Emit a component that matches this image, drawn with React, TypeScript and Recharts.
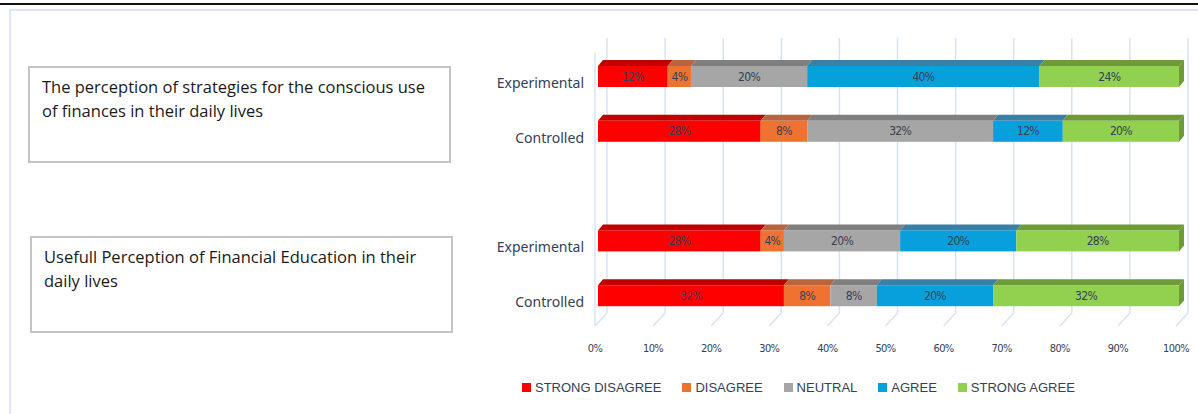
import React from 'react'
import { Bar, BarChart, CartesianGrid, LabelList, XAxis, YAxis } from 'recharts'

const CATEGORIES = ['Experimental', 'Controlled', '', 'Experimental', 'Controlled']
const STRONG_DISAGREE = [12, 28, null, 28, 32]
const DISAGREE = [4, 8, null, 4, 8]
const NEUTRAL = [20, 32, null, 20, 8]
const AGREE = [40, 12, null, 20, 20]
const STRONG_AGREE = [24, 20, null, 28, 32]
const X_TICKS = [0, 10, 20, 30, 40, 50, 60, 70, 80, 90, 100]

const SERIES = [
  { key: 'sd', name: 'STRONG DISAGREE', values: STRONG_DISAGREE, color: '#FF0000', top: '#C00000' },
  { key: 'd', name: 'DISAGREE', values: DISAGREE, color: '#F07230', top: '#B8653F' },
  { key: 'n', name: 'NEUTRAL', values: NEUTRAL, color: '#A6A6A6', top: '#7F7F7F' },
  { key: 'a', name: 'AGREE', values: AGREE, color: '#08A0DC', top: '#3A7FA6' },
  { key: 'sa', name: 'STRONG AGREE', values: STRONG_AGREE, color: '#92D050', top: '#6E9A38' },
]

const data = CATEGORIES.map((name, i) => {
  const row: Record<string, any> = { name }
  SERIES.forEach((s) => (row[s.key] = s.values[i]))
  return row
})

const TEXT = '#344055'
const GRID = '#D7E3F3'
const NARROW = '"DejaVu Sans Condensed", "Liberation Sans", Arial, sans-serif'

function barShape(top: string, last: boolean) {
  return (props: any) => {
    const { x, y, width, height, fill } = props
    if (!width || width <= 0) return <g />
    const dx = 5
    const dy = 6
    return (
      <g>
        <path d={`M${x},${y} L${x + dx},${y - dy} L${x + width + dx},${y - dy} L${x + width},${y} Z`} fill={top} />
        {last && (
          <path
            d={`M${x + width},${y} L${x + width + dx},${y - dy} L${x + width + dx},${y + height - dy} L${x + width},${y + height} Z`}
            fill={top}
          />
        )}
        <rect x={x} y={y} width={width} height={height} fill={fill} />
      </g>
    )
  }
}

function gridLine(props: any) {
  const { x1, y1, y2, index } = props
  return (
    <g key={`g-${index}-${x1}`}>
      <line x1={x1 + 9} y1={y1 - 11} x2={x1 + 9} y2={y2 - 10} stroke={GRID} strokeWidth={1.5} />
      <line x1={x1 + 9} y1={y2 - 10} x2={x1 - 3} y2={y2 + 3} stroke={GRID} strokeWidth={1.5} />
      {index === 0 && <line x1={x1 - 3} y1={y1 + 4} x2={x1 - 3} y2={y2 + 3} stroke={GRID} strokeWidth={1.5} />}
    </g>
  )
}

function CategoryTick(props: any) {
  const { y, payload } = props
  if (!payload.value) return <g />
  return (
    <text x={124} y={y + 6} textAnchor="end" dominantBaseline="central" fill={TEXT} fontSize={14} fontFamily='"Noto Sans", sans-serif'>
      {payload.value}
    </text>
  )
}

function PercentTick(props: any) {
  const { x, y, payload } = props
  return (
    <text x={x - 3} y={y + 25} textAnchor="middle" dominantBaseline="central" fill={TEXT} fontSize={11} letterSpacing={-0.6} fontFamily={NARROW}>
      {`${payload.value}%`}
    </text>
  )
}

function SegmentLabel(props: any) {
  const { x, y, width, height, value } = props
  if (value == null) return null
  return (
    <text x={x + width / 2} y={y + height / 2} textAnchor="middle" dominantBaseline="central" fill={TEXT} fontSize={12} letterSpacing={-0.7} fontFamily={NARROW}>
      {`${value}%`}
    </text>
  )
}

const boxStyle: React.CSSProperties = {
  position: 'absolute',
  width: 423,
  height: 97,
  border: '2px solid #C4C4C4',
  boxSizing: 'border-box',
  padding: '7px 12px 0 12px',
  fontFamily: '"Open Sans", sans-serif',
  fontSize: 16.5,
  lineHeight: '24px',
  color: '#1A1A1A',
}

export default function App() {
  return (
    <div style={{ position: 'absolute', left: 0, top: 0, width: 1198, height: 414, background: '#fff', overflow: 'hidden' }}>
      <div style={{ position: 'absolute', left: 0, top: 3, width: 1198, height: 2, background: '#111' }} />
      <div style={{ position: 'absolute', left: 9, top: 9, width: 1189, height: 2, background: '#DCE7F5' }} />
      <div style={{ position: 'absolute', left: 9, top: 9, width: 2, height: 405, background: '#DCE7F5' }} />

      <div style={{ ...boxStyle, left: 28, top: 66 }}>
        The perception of strategies for the conscious use of finances in their daily lives
      </div>
      <div style={{ ...boxStyle, left: 30, top: 236 }}>
        Usefull Perception of Financial Education in their daily lives
      </div>

      <div style={{ position: 'absolute', left: 460, top: 0 }}>
        <BarChart
          width={738}
          height={414}
          data={data}
          layout="vertical"
          barSize={21}
          margin={{ top: 49, right: 19, bottom: 61, left: 8 }}
        >
          <CartesianGrid horizontal={false} vertical={gridLine} />
          <XAxis
            type="number"
            domain={[0, 100]}
            ticks={X_TICKS}
            tick={<PercentTick />}
            tickLine={false}
            axisLine={false}
            tickSize={0}
            tickMargin={0}
            height={30}
          />
          <YAxis
            type="category"
            dataKey="name"
            width={130}
            tick={<CategoryTick />}
            tickLine={false}
            axisLine={false}
            tickSize={0}
            tickMargin={0}
          />
          {SERIES.map((s, i) => (
            <Bar
              key={s.key}
              dataKey={s.key}
              name={s.name}
              stackId="all"
              fill={s.color}
              shape={barShape(s.top, i === SERIES.length - 1)}
              isAnimationActive={false}
            >
              <LabelList dataKey={s.key} content={<SegmentLabel />} />
            </Bar>
          ))}
        </BarChart>
      </div>

      <div
        style={{
          position: 'absolute',
          left: 522,
          top: 380,
          display: 'flex',
          alignItems: 'center',
          gap: 21,
          fontFamily: '"Liberation Sans", Arial, sans-serif',
          fontSize: 13,
          color: TEXT,
        }}
      >
        {SERIES.map((s) => (
          <div key={s.key} style={{ display: 'flex', alignItems: 'center', gap: 4 }}>
            <span style={{ width: 9, height: 9, background: s.color, display: 'inline-block' }} />
            <span>{s.name}</span>
          </div>
        ))}
      </div>
    </div>
  )
}
